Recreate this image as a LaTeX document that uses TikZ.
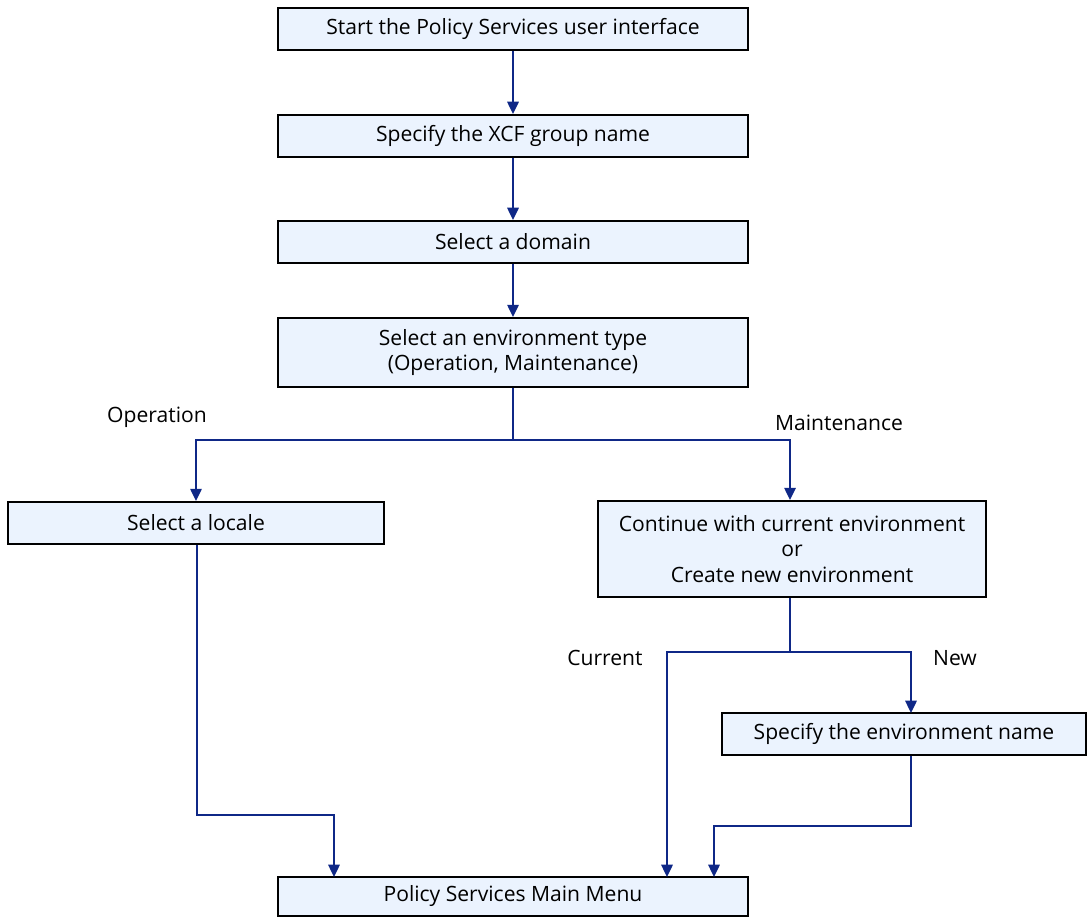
\documentclass[tikz,border=0pt]{standalone}
\usepackage{fontspec}
\setmainfont{Open Sans}
\usetikzlibrary{arrows.meta,calc,positioning}
\definecolor{boxfill}{RGB}{235,243,254}
\definecolor{flowblue}{RGB}{15,40,135}

\begin{document}
\begin{tikzpicture}[x=0.02cm,y=-0.02cm,
    box/.style={draw=black,line width=1.1pt,fill=boxfill,inner sep=0pt,
        minimum width=9.42cm,minimum height=0.84cm,align=center,
        font=\fontsize{12}{14.3}\selectfont},
    flow/.style={draw=flowblue,line width=1.1pt,-{Triangle[length=7pt,width=6.5pt]}},
    lbl/.style={font=\fontsize{12}{14}\selectfont}]
    \useasboundingbox (0,0) rectangle (1091,917);
    %Boxes
    \node[box] (start) at (513,29) {Start the Policy Services user interface};
    \node[box] (group) at (513,136) {Specify the XCF group name};
    \node[box] (domain) at (513,242) {Select a domain};
    \node[box,minimum height=1.38cm] (envtype) at (513,352.5) {Select an environment type\\(Operation, Maintenance)};
    \node[box,minimum width=7.52cm] (locale) at (196,523) {Select a locale};
    \node[box,minimum width=7.76cm,minimum height=1.92cm] (choice) at (792,549) {Continue with current environment\\or\\Create new environment};
    \node[box,minimum width=7.28cm] (envname) at (904,734) {Specify the environment name};
    \node[box,minimum height=0.78cm] (mainmenu) at (513,896.5) {Policy Services Main Menu};
    %Branch points
    \coordinate (split1) at (513,440);
    \coordinate (split2) at (790,652);
    \coordinate (newin) at (911,713);
    \coordinate (mmA) at (334,877);
    \coordinate (mmB) at (667,877);
    \coordinate (mmC) at (714,877);
    %Labels
    \node[lbl] (oplbl) at (157,417) {Operation};
    \node[lbl] (mtlbl) at (839,423) {Maintenance};
    \node[lbl] (curlbl) at (605,658) {Current};
    \node[lbl] (newlbl) at (955,658) {New};
    %Connectors
    \draw[flow] (start) -- (group);
    \draw[flow] (group) -- (domain);
    \draw[flow] (domain) -- (envtype);
    \draw[flowblue,line width=1.1pt] (envtype.south) -- (split1);
    \draw[flow] (split1) -| (locale.north);
    \draw[flow] (split1) -| (choice.north -| split2);
    \draw[flowblue,line width=1.1pt] (choice.south -| split2) -- (split2);
    \draw[flow] (split2) -| (newin);
    \draw[flow] (split2) -| (mmB);
    \draw[flow] (locale.south -| 197,0) |- (334,815) -- (mmA);
    \draw[flow] (envname.south -| newin) |- (714,826) -- (mmC);
\end{tikzpicture}
\end{document}
